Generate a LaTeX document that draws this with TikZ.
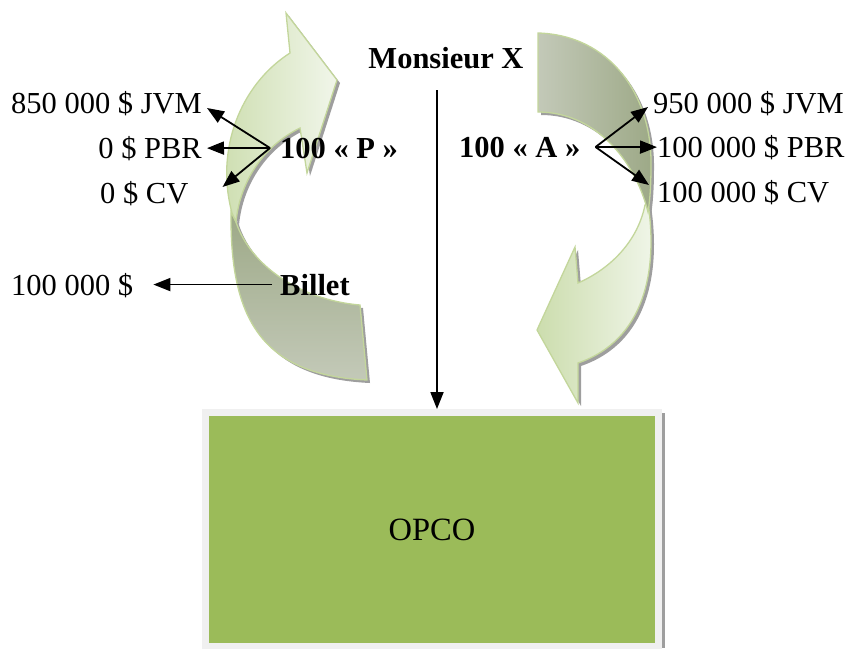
\documentclass[tikz,border=0pt]{standalone}
\usepackage{fontspec}
\setmainfont{Liberation Serif}
\usetikzlibrary{arrows.meta,positioning}

\definecolor{opcogreen}{HTML}{9BBB59}
\definecolor{rimgreen}{HTML}{C3D69B}
\definecolor{leafpale}{HTML}{F1F6EA}
\definecolor{leafmid}{HTML}{CCDDAE}
\definecolor{sagedark}{HTML}{9DA987}
\definecolor{sagepale}{HTML}{C3C9B8}
\definecolor{framegrey}{HTML}{F0F0F0}

% outlines of the two curved arrows (y grows downwards)
\newcommand\arrLhead{(232,213) .. controls (215,150) and (240,85) .. (290,53) -- (286,13) -- (337,80) -- (307,173) -- (300,128) .. controls (265,145) and (240,180) .. (236,222) -- cycle}
\newcommand\arrLtail{(231,212) .. controls (230,310) and (255,375) .. (367,380) -- (360,305) .. controls (300,300) and (250,265) .. (236,222) -- cycle}
\newcommand\arrRtail{(538,33) .. controls (610,35) and (652,95) .. (651,165) .. controls (651,185) and (650,200) .. (648,212) .. controls (635,160) and (595,112) .. (538,112) -- cycle}
\newcommand\arrRhead{(648,203) .. controls (658,270) and (645,340) .. (578,363) -- (578,403) -- (537,330) -- (575,247) -- (578,283) .. controls (612,268) and (638,240) .. (645,205) -- cycle}

\begin{document}
\begin{tikzpicture}[x=1pt,y=-1pt,>={Triangle[length=17pt,width=13pt]},
    lbl/.style={inner sep=0pt,font=\fontsize{30.5}{36}\selectfont},
    blbl/.style={inner sep=0pt,font=\fontsize{30.5}{36}\selectfont\bfseries},
    link/.style={->,line width=1.8pt},
    rim/.style={draw=rimgreen,line width=1.3pt},
    dropshade/.style={fill=black!38,shift={(3,3)}}]
  \useasboundingbox (0,0) rectangle (846,648);

  % curved arrows
  \fill[dropshade] \arrLtail;
  \fill[dropshade] \arrLhead;
  \fill[dropshade] \arrRtail;
  \fill[dropshade] \arrRhead;
  \path[rim,top color=sagedark,bottom color=sagepale] \arrLtail;
  \path[rim,left color=leafmid,right color=leafpale] \arrLhead;
  \path[rim,left color=leafmid,right color=leafpale] \arrRhead;
  \path[rim,left color=sagepale,right color=sagedark] \arrRtail;

  % OPCO
  \fill[black!38] (206,413) rectangle (665,648);
  \node[fill=opcogreen,draw=framegrey,line width=7pt,minimum width=453pt,
    minimum height=234pt,inner sep=0pt,font=\fontsize{32.5}{38}\selectfont] (opco) at (432,529.5) {OPCO};

  % Monsieur X
  \node[blbl,anchor=base] (mx) at (446,68) {Monsieur X};
  \coordinate (mxfoot) at (437,90);
  \draw[link] (mxfoot) -- (mxfoot |- opco.north);

  % left side
  \node[blbl,anchor=base west] (pL) at (280,158) {100 « P »};
  \node[lbl,anchor=base east] (jvmL) at (202,113) {850 000 \$ JVM};
  \node[lbl,anchor=base east] (pbrL) at (202,158) {0 \$ PBR};
  \node[lbl,anchor=base west] (cvL) at (100,203) {0 \$ CV};
  \coordinate (pfork) at ([xshift=-10pt]pL.west);
  \draw[link] (pfork) -- ([shift={(5,-5)}]jvmL.base east);
  \draw[link] (pfork) -- ([xshift=5pt]pbrL.east);
  \draw[link] (pfork) -- ([shift={(34,-16)}]cvL.base east);

  \node[blbl,anchor=base west] (billet) at (280,295) {Billet};
  \node[lbl,anchor=base west] (bilL) at (11,295) {100 000 \$};
  \draw[link] ([xshift=-8pt]billet.west) -- ([xshift=20pt]billet.west -| bilL.east);

  % right side
  \node[blbl,anchor=base west] (aR) at (459,157) {100 « A »};
  \node[lbl,anchor=base west] (jvmR) at (653,113) {950 000 \$ JVM};
  \node[lbl,anchor=base west] (pbrR) at (657,157) {100 000 \$ PBR};
  \node[lbl,anchor=base west] (cvR) at (657,202) {100 000 \$ CV};
  \coordinate (afork) at ([xshift=15pt]aR.east);
  \draw[link] (afork) -- ([shift={(-5,-6)}]jvmR.base west);
  \draw[link] (afork) -- (pbrR.west);
  \draw[link] (afork) -- ([shift={(-8,-17)}]cvR.base west);
\end{tikzpicture}
\end{document}
